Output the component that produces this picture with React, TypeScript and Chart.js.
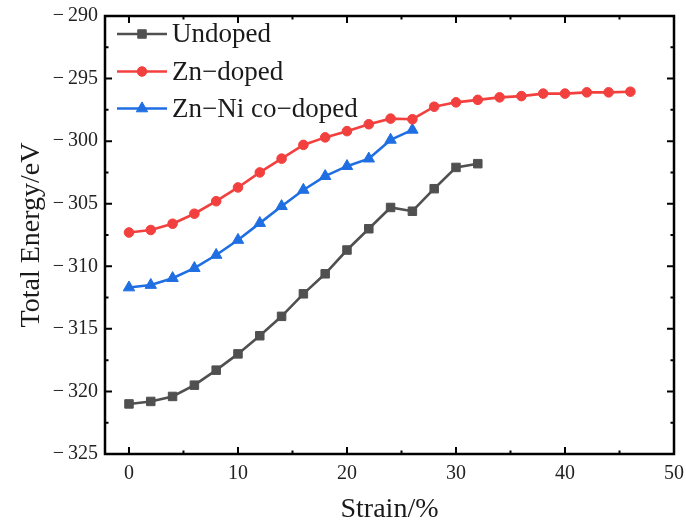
import React, { useEffect, useRef } from 'react';
import { Chart, registerables } from 'chart.js';
import { drawPoint } from 'chart.js/helpers';

Chart.register(...registerables);

// Strain (%) sampled for each structure
const strainUndoped = [0, 2, 4, 6, 8, 10, 12, 14, 16, 18, 20, 22, 24, 26, 28, 30, 32];
const strainZnDoped = [0, 2, 4, 6, 8, 10, 12, 14, 16, 18, 20, 22, 24, 26, 28, 30, 32, 34, 36, 38, 40, 42, 44, 46];
const strainZnNi = [0, 2, 4, 6, 8, 10, 12, 14, 16, 18, 20, 22, 24, 26];

// Total energy (eV)
const energyUndoped = [
  -321.0, -320.8, -320.4, -319.5, -318.3, -317.0, -315.55, -314.0, -312.2,
  -310.6, -308.7, -307.0, -305.3, -305.6, -303.8, -302.1, -301.8,
];
const energyZnDoped = [
  -307.3, -307.1, -306.6, -305.8, -304.8, -303.7, -302.5, -301.4, -300.3,
  -299.7, -299.2, -298.65, -298.2, -298.25, -297.25, -296.9, -296.7, -296.5,
  -296.4, -296.2, -296.2, -296.1, -296.1, -296.05,
];
const energyZnNi = [
  -311.7, -311.5, -310.95, -310.15, -309.1, -307.9, -306.55, -305.2, -303.9,
  -302.8, -302.0, -301.4, -299.9, -299.1,
];

const seriesLabels = ['Undoped', 'Zn\u2212doped', 'Zn\u2212Ni co\u2212doped'];
const seriesColors = ['#505050', '#f2403e', '#1f6fe3'];
const seriesMarkers = ['rect', 'circle', 'triangle'];
const markerRadius = [6, 4.8, 6.6];

const xMajorTicks = [0, 10, 20, 30, 40, 50];
const xMinorTicks = [5, 15, 25, 35, 45];
const yMajorTicks = [-325, -320, -315, -310, -305, -300, -295, -290];
const yMinorTicks = [-322.5, -317.5, -312.5, -307.5, -302.5, -297.5, -292.5];

const X_MIN = -2.2;
const X_MAX = 50;
const Y_MIN = -325;
const Y_MAX = -290;

const SERIF = '"Liberation Serif", "Times New Roman", serif';

const toPoints = (xs: number[], ys: number[]) => xs.map((x, i) => ({ x, y: ys[i] }));

// Closed black frame with inward major/minor ticks on all four sides
const framePlugin = {
  id: 'frameTicks',
  afterDraw(chart: any) {
    const { ctx, chartArea } = chart;
    const { left, right, top, bottom } = chartArea;
    const xs = chart.scales.x;
    const ys = chart.scales.y;
    ctx.save();
    ctx.strokeStyle = '#000';
    ctx.lineCap = 'butt';
    ctx.lineWidth = 2;
    const major = 7;
    const minor = 3.5;
    const vTick = (v: number, len: number) => {
      const px = xs.getPixelForValue(v);
      ctx.beginPath();
      ctx.moveTo(px, bottom);
      ctx.lineTo(px, bottom - len);
      ctx.moveTo(px, top);
      ctx.lineTo(px, top + len);
      ctx.stroke();
    };
    const hTick = (v: number, len: number) => {
      const py = ys.getPixelForValue(v);
      ctx.beginPath();
      ctx.moveTo(left, py);
      ctx.lineTo(left + len, py);
      ctx.moveTo(right, py);
      ctx.lineTo(right - len, py);
      ctx.stroke();
    };
    xMajorTicks.forEach((v) => vTick(v, major));
    xMinorTicks.forEach((v) => vTick(v, minor));
    yMajorTicks.forEach((v) => hTick(v, major));
    yMinorTicks.forEach((v) => hTick(v, minor));
    ctx.lineWidth = 2.5;
    ctx.strokeRect(left, top, right - left, bottom - top);
    ctx.restore();
  },
};

// Legend drawn inside the plot area: line sample with marker, then label
const insideLegend = {
  id: 'insideLegend',
  afterDatasetsDraw(chart: any) {
    const { ctx } = chart;
    const rows = [34, 71.5, 108.5];
    const x0 = 117;
    const x1 = 167;
    ctx.save();
    chart.data.datasets.forEach((ds: any, i: number) => {
      const y = rows[i];
      ctx.strokeStyle = ds.borderColor;
      ctx.lineWidth = ds.borderWidth;
      ctx.beginPath();
      ctx.moveTo(x0, y);
      ctx.lineTo(x1, y);
      ctx.stroke();
      ctx.fillStyle = ds.pointBackgroundColor;
      ctx.strokeStyle = ds.pointBorderColor;
      ctx.lineWidth = ds.pointBorderWidth;
      drawPoint(ctx, { pointStyle: ds.pointStyle, radius: ds.pointRadius, rotation: 0, borderWidth: ds.pointBorderWidth }, (x0 + x1) / 2, y);
      ctx.fillStyle = '#1a1a1a';
      ctx.font = `27px ${SERIF}`;
      ctx.textBaseline = 'middle';
      ctx.textAlign = 'left';
      ctx.fillText(ds.label, 172, y + 1);
    });
    ctx.restore();
  },
};

const makeDataset = (i: number, xs: number[], ys: number[]) => ({
  label: seriesLabels[i],
  data: toPoints(xs, ys),
  borderColor: seriesColors[i],
  backgroundColor: seriesColors[i],
  borderWidth: 2.6,
  pointStyle: seriesMarkers[i],
  pointRadius: markerRadius[i],
  pointBackgroundColor: seriesColors[i],
  pointBorderColor: seriesColors[i],
  pointBorderWidth: 1,
  tension: 0,
});

export default function App() {
  const canvasRef = useRef<HTMLCanvasElement | null>(null);

  useEffect(() => {
    document.body.style.margin = '0';
    const canvas = canvasRef.current;
    if (!canvas) return;
    const chart = new Chart(canvas, {
      type: 'line',
      data: {
        datasets: [
          makeDataset(0, strainUndoped, energyUndoped),
          makeDataset(1, strainZnDoped, energyZnDoped),
          makeDataset(2, strainZnNi, energyZnNi),
        ],
      },
      options: {
        responsive: false,
        animation: false,
        devicePixelRatio: 1,
        layout: { padding: { top: 16, right: 12, left: 0, bottom: 0 } },
        plugins: {
          legend: { display: false },
          tooltip: { enabled: false },
        },
        scales: {
          x: {
            type: 'linear',
            min: X_MIN,
            max: X_MAX,
            grid: { display: false, drawTicks: false },
            border: { display: false },
            afterBuildTicks: (scale: any) => {
              scale.ticks = xMajorTicks.map((value) => ({ value }));
            },
            afterFit: (scale: any) => {
              scale.height = 71;
              scale.paddingLeft = 0;
              scale.paddingRight = 0;
            },
            ticks: {
              font: { family: SERIF, size: 20 },
              color: '#222',
              padding: 8,
              maxRotation: 0,
              callback: (v: any) => String(v),
            },
            title: {
              display: true,
              text: 'Strain/%',
              font: { family: SERIF, size: 28, lineHeight: 1 },
              color: '#1a1a1a',
              padding: { top: 0, bottom: 1 },
            },
          },
          y: {
            type: 'linear',
            min: Y_MIN,
            max: Y_MAX,
            grid: { display: false, drawTicks: false },
            border: { display: false },
            afterBuildTicks: (scale: any) => {
              scale.ticks = yMajorTicks.map((value) => ({ value }));
            },
            afterFit: (scale: any) => {
              scale.width = 105;
              scale.paddingTop = 0;
              scale.paddingBottom = 0;
            },
            ticks: {
              font: { family: SERIF, size: 20 },
              color: '#222',
              padding: 7,
              callback: (v: any) =>
                Number(v) < 0 ? '\u2212\u2009' + Math.abs(Number(v)) : String(v),
            },
            title: {
              display: true,
              text: 'Total Energy/eV',
              font: { family: SERIF, size: 28, lineHeight: 1 },
              color: '#1a1a1a',
              padding: { top: 18, bottom: 0 },
            },
          },
        },
      },
      plugins: [framePlugin, insideLegend],
    });
    return () => chart.destroy();
  }, []);

  return (
    <div style={{ position: 'absolute', left: 0, top: 0, width: 686, height: 525, background: '#fff' }}>
      <canvas ref={canvasRef} width={686} height={525} />
    </div>
  );
}
